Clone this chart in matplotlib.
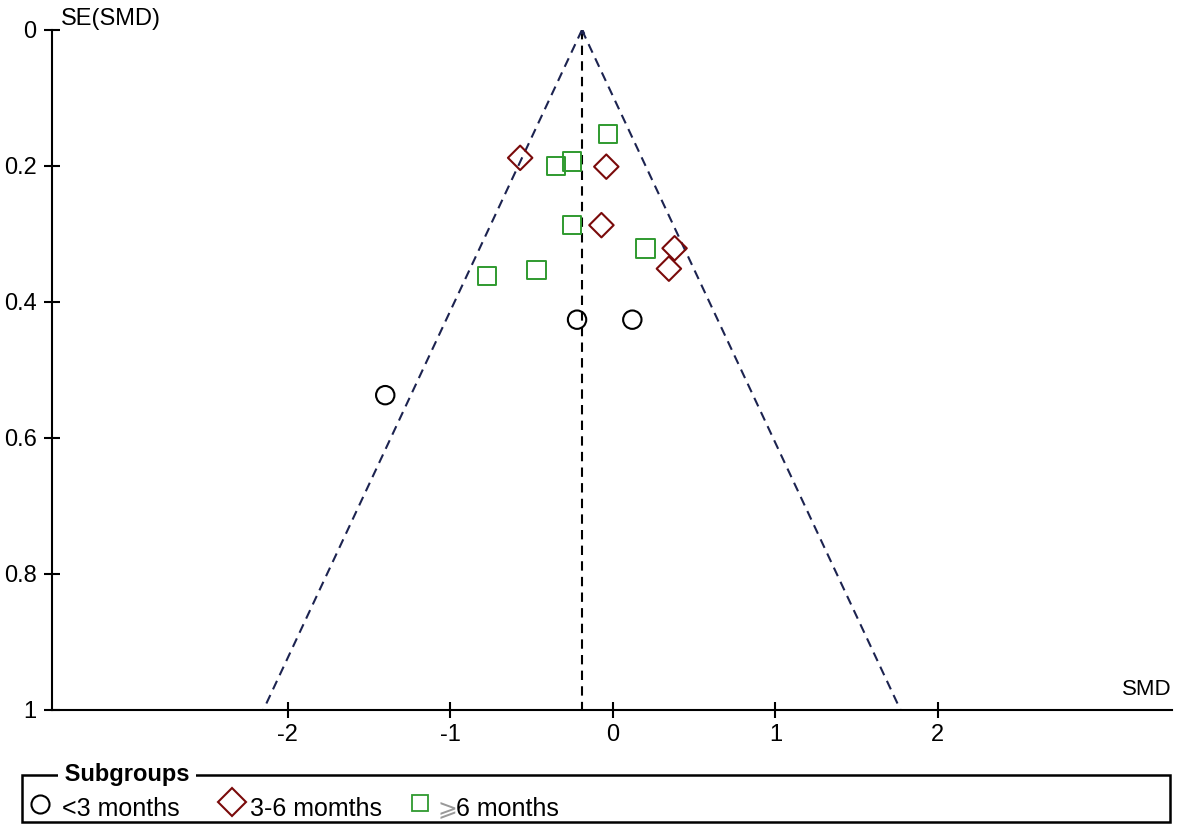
import numpy as np
import matplotlib.pyplot as plt
from matplotlib.lines import Line2D
from matplotlib.patches import Rectangle

# funnel plot data (SMD vs SE(SMD))
pooled = -0.19
lt3_smd = [-1.40, -0.22, 0.12]
lt3_se = [0.537, 0.426, 0.426]
mid_smd = [-0.57, -0.04, -0.07, 0.38, 0.345]
mid_se = [0.188, 0.201, 0.287, 0.321, 0.351]
gt6_smd = [-0.03, -0.35, -0.25, -0.25, 0.20, -0.775, -0.47]
gt6_se = [0.153, 0.200, 0.193, 0.287, 0.321, 0.362, 0.353]
xticks = [-2, -1, 0, 1, 2]
yticks = [0, 0.2, 0.4, 0.6, 0.8, 1]

plt.rcParams['font.family'] = ['Liberation Sans', 'DejaVu Sans']

fig = plt.figure(figsize=(11.81, 8.36), dpi=100)
ax = fig.add_axes([52 / 1181, 126 / 836, 1120 / 1181, 680 / 836])

navy = '#1c2350'
red = '#7a0a0a'
green = '#2f9a2f'
dash = (0, (4.5, 3))

# funnel limits
se = np.array([0, 1])
ax.plot(pooled - 1.96 * se, se, color=navy, ls=dash, lw=1.5)
ax.plot(pooled + 1.96 * se, se, color=navy, ls=dash, lw=1.5)
ax.plot([pooled, pooled], [0, 1], color='black', ls=dash, lw=1.5)
ax.plot([pooled], [0.002], marker='^', color=navy, ms=3)

ax.scatter(lt3_smd, lt3_se, marker='o', s=175, facecolors='none', edgecolors='black', linewidths=1.5, zorder=3)
ax.scatter(mid_smd, mid_se, marker='D', s=155, facecolors='none', edgecolors=red, linewidths=1.5, zorder=3)
ax.scatter(gt6_smd, gt6_se, marker='s', s=180, facecolors='none', edgecolors=green, linewidths=1.4, zorder=3)

ax.set_xlim(-3.45, 3.44)
ax.set_ylim(1, 0)
ax.set_xticks(xticks)
ax.set_xticklabels(['-2', '-1', '0', '1', '2'])
ax.set_yticks(yticks)
ax.set_yticklabels(['0', '0.2', '0.4', '0.6', '0.8', '1'])
for s in ['top', 'right']:
    ax.spines[s].set_visible(False)
for s in ['left', 'bottom']:
    ax.spines[s].set_linewidth(1.5)
ax.tick_params(direction='inout', length=12, width=1.5, labelsize=17, pad=5)
ax.tick_params(axis='x', pad=4)

ax.text(0.008, 1.016, 'SE(SMD)', transform=ax.transAxes, fontsize=17, va='center', ha='left')
ax.text(1.0, 0.015, 'SMD', transform=ax.transAxes, fontsize=16, va='bottom', ha='right')

# legend box
fig.add_artist(Rectangle((22 / 1181, 14 / 836), 1148 / 1181, 47 / 836, transform=fig.transFigure,
                         fill=False, edgecolor='black', lw=1.8))
fig.text(58 / 1181, 61 / 836, ' Subgroups ', fontsize=17, fontweight='bold', va='center', ha='left',
         bbox=dict(facecolor='white', edgecolor='none', pad=0))
fig.add_artist(Line2D([40 / 1181], [32 / 836], transform=fig.transFigure, marker='o', ms=13,
                      mfc='none', mec='black', mew=1.5, ls='none'))
fig.text(62 / 1181, 27 / 836, '<3 months', fontsize=18, va='center', ha='left')
fig.add_artist(Line2D([232 / 1181], [34 / 836], transform=fig.transFigure, marker='D', ms=14,
                      mfc='none', mec=red, mew=1.5, ls='none'))
fig.text(250 / 1181, 27 / 836, '3-6 momths', fontsize=18, va='center', ha='left')
fig.add_artist(Line2D([420 / 1181], [33 / 836], transform=fig.transFigure, marker='s', ms=12,
                      mfc='none', mec=green, mew=1.3, ls='none'))
fig.text(437 / 1181, 27 / 836, '⩾', fontsize=17, va='center', ha='left', color='#999999',
         family=['DejaVu Sans'])
fig.text(456 / 1181, 27 / 836, '6 months', fontsize=18, va='center', ha='left')

fig.savefig('out.png', dpi=100)
